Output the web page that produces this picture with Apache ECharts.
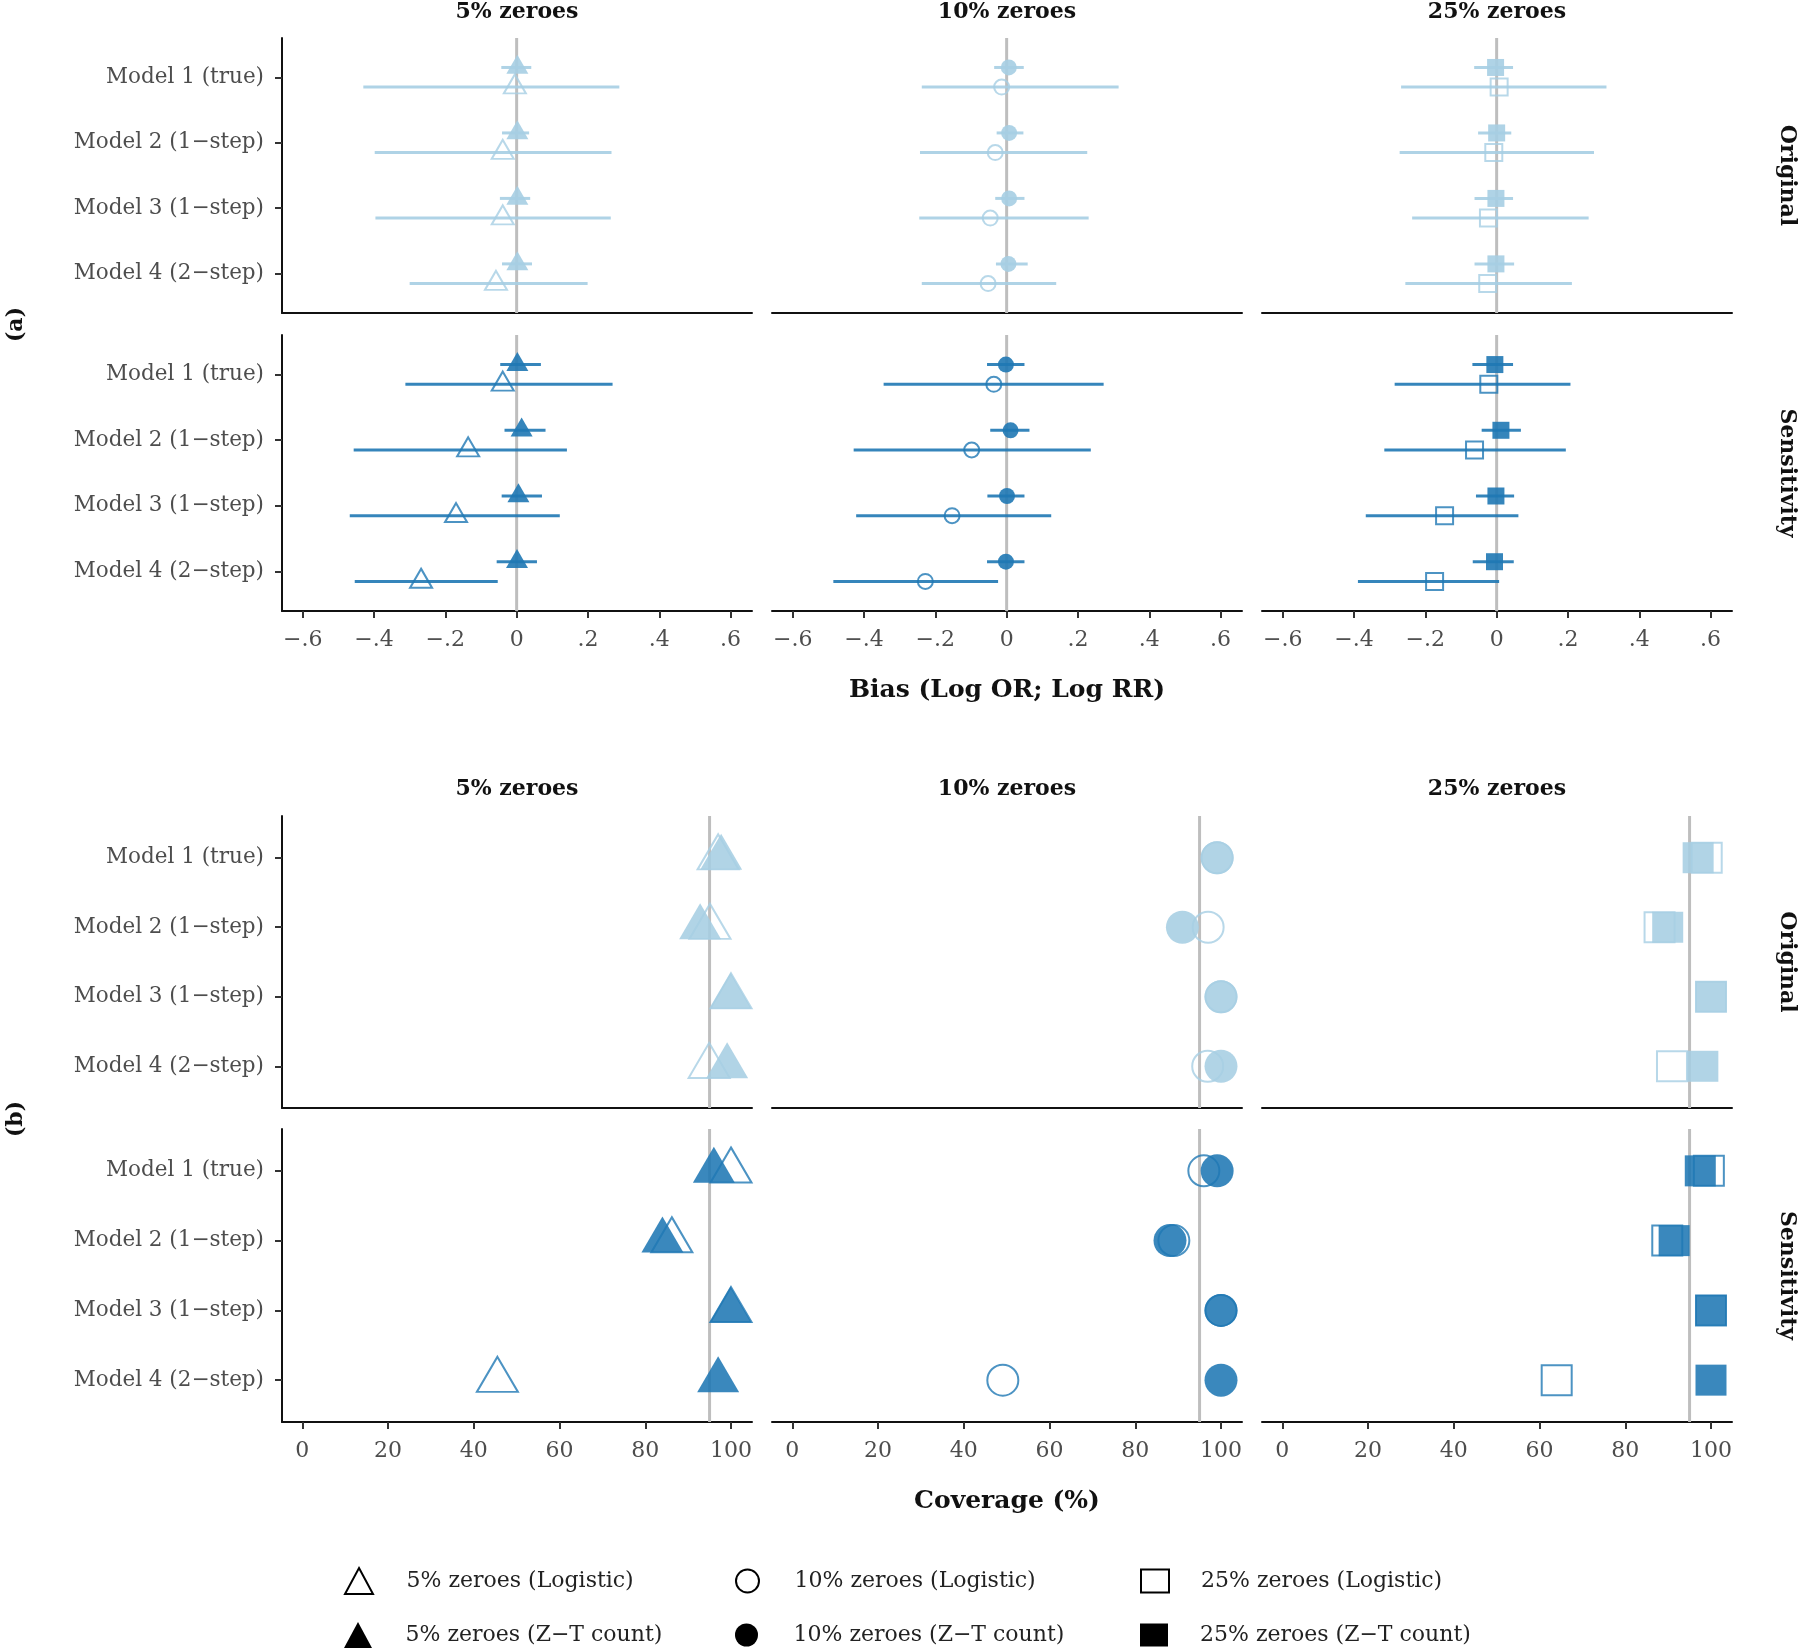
<!DOCTYPE html>
<html>
<head>
<meta charset="utf-8">
<script src="https://cdn.jsdelivr.net/npm/echarts@6/dist/echarts.min.js"></script>
<style>html,body{margin:0;padding:0;background:#fff}#chart{width:1800px;height:1648px}</style>
</head>
<body>
<div id="chart"></div>
<script>
// ---------- categories & labels ----------
const models = ['Model 1 (true)', 'Model 2 (1\u2212step)', 'Model 3 (1\u2212step)', 'Model 4 (2\u2212step)'];
const zeroLevels = ['5% zeroes', '10% zeroes', '25% zeroes'];
const methods = ['Logistic', 'Z\u2212T count'];
const analyses = ['Original', 'Sensitivity'];
const panelTags = ['(a)', '(b)'];
const biasTicks = [-0.6, -0.4, -0.2, 0, 0.2, 0.4, 0.6];
const biasTickLabels = ['\u2212.6', '\u2212.4', '\u2212.2', '0', '.2', '.4', '.6'];
const coverageTicks = [0, 20, 40, 60, 80, 100];
const coverageTickLabels = ['0', '20', '40', '60', '80', '100'];
const biasRef = 0;
const coverageRef = 95;

// ---------- bias: [estimate, lower, upper] per model ----------
const biasOriginal5Logistic  = [[-0.005,-0.430,0.288],[-0.039,-0.398,0.266],[-0.039,-0.396,0.264],[-0.058,-0.300,0.199]];
const biasOriginal5Count     = [[0.002,-0.043,0.041],[0.002,-0.041,0.035],[0.002,-0.047,0.038],[0.002,-0.041,0.043]];
const biasOriginal10Logistic = [[-0.014,-0.238,0.314],[-0.032,-0.243,0.226],[-0.046,-0.245,0.230],[-0.052,-0.238,0.139]];
const biasOriginal10Count    = [[0.006,-0.035,0.048],[0.007,-0.028,0.047],[0.007,-0.032,0.050],[0.005,-0.030,0.059]];
const biasOriginal25Logistic = [[0.007,-0.268,0.308],[-0.008,-0.272,0.273],[-0.023,-0.237,0.258],[-0.025,-0.256,0.211]];
const biasOriginal25Count    = [[-0.003,-0.063,0.046],[0.000,-0.052,0.041],[-0.002,-0.062,0.046],[-0.002,-0.062,0.049]];
const biasSensitivity5Logistic  = [[-0.039,-0.312,0.269],[-0.136,-0.457,0.141],[-0.170,-0.468,0.121],[-0.268,-0.454,-0.053]];
const biasSensitivity5Count     = [[0.002,-0.046,0.068],[0.014,-0.034,0.081],[0.005,-0.042,0.071],[0.001,-0.056,0.057]];
const biasSensitivity10Logistic = [[-0.036,-0.345,0.272],[-0.098,-0.429,0.236],[-0.153,-0.422,0.125],[-0.228,-0.486,-0.024]];
const biasSensitivity10Count    = [[-0.002,-0.055,0.050],[0.011,-0.046,0.064],[0.001,-0.054,0.050],[-0.002,-0.055,0.050]];
const biasSensitivity25Logistic = [[-0.022,-0.286,0.207],[-0.062,-0.315,0.194],[-0.146,-0.367,0.061],[-0.174,-0.389,0.007]];
const biasSensitivity25Count    = [[-0.005,-0.068,0.046],[0.012,-0.042,0.068],[-0.002,-0.058,0.049],[-0.006,-0.067,0.048]];

// ---------- coverage (%) per model ----------
const coverageOriginal5Logistic  = [97.0, 95.1, 100, 94.9];
const coverageOriginal5Count     = [97.7, 92.8, 99.9, 99.1];
const coverageOriginal10Logistic = [99.1, 97.0, 100, 96.9];
const coverageOriginal10Count    = [99.1, 91.0, 100, 100];
const coverageOriginal25Logistic = [99.0, 88.0, 100, 90.9];
const coverageOriginal25Count    = [97.0, 89.9, 100, 98.1];
const coverageSensitivity5Logistic  = [100, 86.2, 100, 45.5];
const coverageSensitivity5Count     = [96.0, 84.0, 99.9, 97.0];
const coverageSensitivity10Logistic = [96.0, 89.0, 100, 49.1];
const coverageSensitivity10Count    = [99.1, 88.1, 100, 100];
const coverageSensitivity25Logistic = [99.5, 89.8, 100, 64.0];
const coverageSensitivity25Count    = [97.5, 91.4, 100, 100];

const biasData = [
  [[biasOriginal5Logistic, biasOriginal5Count], [biasOriginal10Logistic, biasOriginal10Count], [biasOriginal25Logistic, biasOriginal25Count]],
  [[biasSensitivity5Logistic, biasSensitivity5Count], [biasSensitivity10Logistic, biasSensitivity10Count], [biasSensitivity25Logistic, biasSensitivity25Count]]
];
const coverageData = [
  [[coverageOriginal5Logistic, coverageOriginal5Count], [coverageOriginal10Logistic, coverageOriginal10Count], [coverageOriginal25Logistic, coverageOriginal25Count]],
  [[coverageSensitivity5Logistic, coverageSensitivity5Count], [coverageSensitivity10Logistic, coverageSensitivity10Count], [coverageSensitivity25Logistic, coverageSensitivity25Count]]
];

// ---------- styling ----------
const FONT = "'DejaVu Serif', serif";
const rowColors = ['#a6cee3', '#1f78b4'];
const shapes = ['triangle', 'circle', 'rect'];
const dodge = 0.15;
const colLefts = [282, 772, 1262];
const colWidth = 470;
const blockRows = [[{top: 38, height: 275}, {top: 335, height: 276}], [{top: 816, height: 292}, {top: 1129, height: 293}]];

// marker sizes [block][shape] -> {fill:[w,h], open:[w,h]}
const markerSizes = [
  [{fill: [22, 19], open: [22, 19]}, {fill: [16, 16], open: [15, 15]}, {fill: [17, 17], open: [17, 17]}],
  [{fill: [42, 36], open: [41, 35]}, {fill: [33, 33], open: [31, 31]}, {fill: [31, 31], open: [30, 30]}]
];

const grids = [], xAxes = [], yAxes = [], series = [];

function symOffset(shape, size) {
  return shape === 'triangle' ? [0, -size[1] / 6] : [0, 0];
}
function seriesName(c, m) { return zeroLevels[c] + ' (' + methods[m] + ')'; }

for (let b = 0; b < 2; b++) {
  const isBias = b === 0;
  for (let r = 0; r < 2; r++) {
    for (let c = 0; c < 3; c++) {
      const gi = grids.length;
      grids.push({left: colLefts[c], width: colWidth, top: blockRows[b][r].top, height: blockRows[b][r].height, containLabel: false});
      const ticks = isBias ? biasTicks : coverageTicks;
      const tickLabels = isBias ? biasTickLabels : coverageTickLabels;
      xAxes.push({
        gridIndex: gi, type: 'value',
        min: isBias ? -0.658 : -4.75, max: isBias ? 0.66 : 104.9,
        axisLine: {show: true, onZero: false, lineStyle: {color: '#111', width: 2}},
        axisTick: {show: r === 1, length: 7, customValues: ticks, lineStyle: {color: '#333', width: 2}},
        axisLabel: {show: r === 1, customValues: ticks, margin: 18, color: '#4d4d4d', fontFamily: FONT, fontSize: 22,
          formatter: (v) => { const i = ticks.findIndex(t => Math.abs(t - v) < 1e-6); return i >= 0 ? tickLabels[i] : ''; }},
        splitLine: {show: false}
      });
      yAxes.push({
        gridIndex: gi, type: 'value', min: 0.4, max: 4.6, inverse: true,
        axisLine: {show: c === 0, onZero: false, lineStyle: {color: '#111', width: 2}},
        axisTick: {show: c === 0, length: 7, customValues: [1, 2, 3, 4], lineStyle: {color: '#333', width: 2}},
        axisLabel: {show: c === 0, customValues: [1, 2, 3, 4], margin: 18, color: '#4d4d4d', fontFamily: FONT, fontSize: 21.5,
          padding: [3, 0, 0, 0],
          formatter: (v) => models[Math.round(v) - 1] || ''},
        splitLine: {show: false}
      });

      const color = rowColors[r];
      // reference line
      series.push({
        type: 'custom', name: 'ref', xAxisIndex: gi, yAxisIndex: gi, z: 1, silent: true,
        data: [[isBias ? biasRef : coverageRef, 2.5]],
        encode: {x: 0, y: 1},
        renderItem: (params, api) => {
          const p = api.coord([api.value(0), api.value(1)]);
          const cs = params.coordSys;
          return {type: 'line', shape: {x1: p[0], y1: cs.y, x2: p[0], y2: cs.y + cs.height}, style: {stroke: '#bebebe', lineWidth: 3}};
        }
      });

      const shape = shapes[c];
      const sz = markerSizes[b][c];
      const nameLog = seriesName(c, 0);
      const nameCnt = seriesName(c, 1);

      if (isBias) {
        const [logD, cntD] = biasData[r][c];
        const mk = (arr, sign) => arr.map((d, i) => [d[1], d[2], i + 1 + sign * dodge]);
        [[cntD, -1], [logD, 1]].forEach(([arr, sign]) => {
          series.push({
            type: 'custom', name: 'errorbar', xAxisIndex: gi, yAxisIndex: gi, z: 2, silent: true,
            data: mk(arr, sign), encode: {x: [0, 1], y: 2},
            renderItem: (params, api) => {
              const y = api.value(2);
              const p1 = api.coord([api.value(0), y]);
              const p2 = api.coord([api.value(1), y]);
              return {type: 'line', shape: {x1: p1[0], y1: p1[1], x2: p2[0], y2: p2[1]}, style: {stroke: color, lineWidth: 3, opacity: 0.9}};
            }
          });
        });
        series.push({
          type: 'scatter', name: nameLog, xAxisIndex: gi, yAxisIndex: gi, z: 3, silent: true,
          symbol: shape, symbolSize: sz.open, symbolOffset: symOffset(shape, sz.open),
          itemStyle: {color: 'rgba(255,255,255,0)', borderColor: color, borderWidth: 2},
          data: logD.map((d, i) => [d[0], i + 1 + dodge])
        });
        series.push({
          type: 'scatter', name: nameCnt, xAxisIndex: gi, yAxisIndex: gi, z: 4, silent: true,
          symbol: shape, symbolSize: sz.fill, symbolOffset: symOffset(shape, sz.fill),
          itemStyle: {color: color, opacity: 0.9},
          data: cntD.map((d, i) => [d[0], i + 1 - dodge])
        });
      } else {
        const [logD, cntD] = coverageData[r][c];
        series.push({
          type: 'scatter', name: nameLog, xAxisIndex: gi, yAxisIndex: gi, z: 3, silent: true,
          symbol: shape, symbolSize: sz.open, symbolOffset: symOffset(shape, sz.open),
          itemStyle: {color: 'rgba(255,255,255,0)', borderColor: color, borderWidth: 2},
          data: logD.map((v, i) => [v, i + 1])
        });
        series.push({
          type: 'scatter', name: nameCnt, xAxisIndex: gi, yAxisIndex: gi, z: 4, silent: true,
          symbol: shape, symbolSize: sz.fill, symbolOffset: symOffset(shape, sz.fill),
          itemStyle: {color: color, opacity: 0.88},
          data: cntD.map((v, i) => [v, i + 1])
        });
      }
    }
  }
}

// ---------- text decorations ----------
const graphic = [];
const txt = (text, x, y, size, opts = {}) => graphic.push({
  type: 'text', x, y, rotation: opts.rotation || 0, silent: true,
  style: {text, fill: opts.fill || '#111', font: `${opts.weight || 'bold'} ${size}px ${FONT}`, textAlign: 'center', textVerticalAlign: 'middle'}
});
const stripY = [12, 789];
for (let b = 0; b < 2; b++) {
  for (let c = 0; c < 3; c++) txt(zeroLevels[c], colLefts[c] + colWidth / 2, stripY[b], 22);
  for (let r = 0; r < 2; r++) {
    const g = blockRows[b][r];
    txt(analyses[r], 1787, g.top + g.height / 2, 22, {rotation: -Math.PI / 2});
  }
  const top = blockRows[b][0].top, bot = blockRows[b][1].top + blockRows[b][1].height;
  txt(panelTags[b], 16, (top + bot) / 2, 22, {rotation: Math.PI / 2});
}
txt('Bias (Log OR; Log RR)', 1007, 690, 25);
txt('Coverage (%)', 1007, 1501, 25);

// ---------- legends (one component per key) ----------
const legendRowY = [1580, 1635];
const legendCols = [
  {left: 344, pad: 28.5, h: 26},
  {left: 735, pad: 28, h: 23},
  {left: 1140, pad: 27, h: 23}
];
const legends = [];
legendCols.forEach((lc, c) => {
  for (let m = 0; m < 2; m++) {
    legends.push({
      orient: 'horizontal', left: lc.left, top: legendRowY[m] - lc.h / 2, padding: 0,
      itemWidth: 28, itemHeight: lc.h, selectedMode: false,
      textStyle: {padding: [0, 0, 0, lc.pad], fontFamily: FONT, fontSize: 22, color: '#222'},
      data: [{
        name: seriesName(c, m), icon: shapes[c],
        itemStyle: m === 0 ? {color: 'rgba(255,255,255,0)', borderColor: '#000', borderWidth: 2, opacity: 1}
                           : {color: '#000', borderWidth: 0, opacity: 1}
      }]
    });
  }
});

const chart = echarts.init(document.getElementById('chart'), null, {renderer: 'canvas'});
chart.setOption({
  backgroundColor: '#fff',
  animation: false,
  grid: grids, xAxis: xAxes, yAxis: yAxes,
  legend: legends,
  graphic: graphic,
  series: series
});
</script>
</body>
</html>
